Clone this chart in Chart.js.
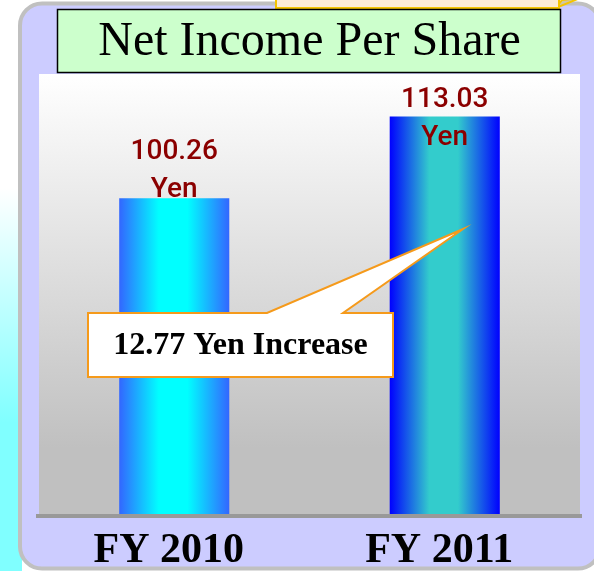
<!DOCTYPE html>
<html>
<head>
<meta charset="utf-8">
<script src="https://cdn.jsdelivr.net/npm/chart.js@4.4.0/dist/chart.umd.min.js"></script>
<style>
  html, body { margin: 0; padding: 0; background: #fff; overflow: hidden; }
  #wrap { width: 594px; height: 571px; }
</style>
</head>
<body>
<div id="wrap"><canvas id="chart"></canvas></div>
<script>
const chartTitle = 'Net Income Per Share';
const categories = ['FY 2010', 'FY 2011'];
const netIncomePerShare = [100.26, 113.03];
const valueUnit = 'Yen';
const increaseText = '12.77 Yen Increase';

// edge colour, middle colour of each bar
const barColors = [
  ['#3366ff', '#00ffff'],
  ['#0000ff', '#33cccc'],
];
// the value texts were placed by hand on the slide, so lift differs per bar
const labelLift = [39, 10];

const serif = '"Liberation Serif", "Times New Roman", serif';

const slideBackground = {
  id: 'slideBackground',
  beforeDraw(chart) {
    const { ctx, width, height, chartArea: a } = chart;
    ctx.save();
    ctx.fillStyle = '#ffffff';
    ctx.fillRect(0, 0, width, height);

    // cyan fade down the left edge of the slide
    const page = ctx.createLinearGradient(0, 0, 0, height);
    page.addColorStop(0, '#ffffff');
    page.addColorStop(0.33, '#ffffff');
    page.addColorStop(0.74, '#80ffff');
    page.addColorStop(1, '#80ffff');
    ctx.fillStyle = page;
    ctx.fillRect(0, 0, 22, height);

    // rounded panel
    ctx.beginPath();
    ctx.roundRect(20, 3.5, 580, 565, 22);
    ctx.fillStyle = '#ccccff';
    ctx.fill();
    ctx.lineWidth = 4;
    ctx.strokeStyle = '#c0c0c0';
    ctx.stroke();

    // another note box peeking in from the top
    ctx.beginPath();
    ctx.moveTo(556, 8);
    ctx.lineTo(562, 0);
    ctx.lineTo(580, -2);
    ctx.closePath();
    ctx.fillStyle = '#cfc7a6';
    ctx.fill();
    ctx.strokeStyle = '#f5c400';
    ctx.lineWidth = 2;
    ctx.stroke();
    ctx.fillStyle = '#fcebd4';
    ctx.fillRect(276, -5, 283, 13);
    ctx.strokeRect(276, -5, 283, 13);

    // plot background
    const bg = ctx.createLinearGradient(0, a.top, 0, a.bottom);
    bg.addColorStop(0, '#ffffff');
    bg.addColorStop(0.85, '#c0c0c0');
    bg.addColorStop(1, '#c0c0c0');
    ctx.fillStyle = bg;
    ctx.fillRect(a.left, a.top, a.right - a.left, a.bottom - a.top);

    // title box
    ctx.fillStyle = '#ccffcc';
    ctx.fillRect(57.5, 9.5, 503, 63);
    ctx.strokeStyle = '#000000';
    ctx.lineWidth = 1.5;
    ctx.strokeRect(57.5, 9.5, 503, 63);
    ctx.restore();
  }
};

const barGradient = {
  id: 'barGradient',
  beforeDatasetsDraw(chart) {
    const ctx = chart.ctx;
    chart.getDatasetMeta(0).data.forEach((bar, i) => {
      const [edge, mid] = barColors[i];
      const g = ctx.createLinearGradient(bar.x - bar.width / 2, 0, bar.x + bar.width / 2, 0);
      g.addColorStop(0, edge);
      g.addColorStop(0.36, mid);
      g.addColorStop(0.62, mid);
      g.addColorStop(1, edge);
      bar.options.backgroundColor = g;
    });
  }
};

const slideNotes = {
  id: 'slideNotes',
  afterDatasetsDraw(chart) {
    const { ctx, chartArea: a } = chart;
    ctx.save();

    // base line
    ctx.strokeStyle = '#999999';
    ctx.lineWidth = 4;
    ctx.beginPath();
    ctx.moveTo(a.left - 3, a.bottom + 2);
    ctx.lineTo(a.right + 2, a.bottom + 2);
    ctx.stroke();

    // value texts
    ctx.font = '500 28px Roboto, "Noto Sans", sans-serif';
    ctx.fillStyle = '#8b0000';
    ctx.textAlign = 'center';
    ctx.textBaseline = 'alphabetic';
    chart.getDatasetMeta(0).data.forEach((bar, i) => {
      const y0 = bar.y - labelLift[i];
      ctx.fillText(netIncomePerShare[i].toFixed(2), bar.x, y0);
      ctx.fillText(valueUnit, bar.x, y0 + 38);
    });

    // increase callout
    ctx.beginPath();
    ctx.moveTo(88, 313);
    ctx.lineTo(267, 313);
    ctx.lineTo(463, 229);
    ctx.lineTo(343, 313);
    ctx.lineTo(393, 313);
    ctx.lineTo(393, 377);
    ctx.lineTo(88, 377);
    ctx.closePath();
    ctx.fillStyle = '#ffffff';
    ctx.fill();
    ctx.strokeStyle = '#f59a1b';
    ctx.lineWidth = 2;
    ctx.stroke();
    ctx.fillStyle = '#000000';
    ctx.font = 'bold 32px ' + serif;
    ctx.fillText(increaseText, 240.5, 354);
    ctx.restore();
  }
};

new Chart(document.getElementById('chart'), {
  type: 'bar',
  data: {
    labels: categories,
    datasets: [{
      data: netIncomePerShare,
      backgroundColor: barColors.map(c => c[0]),
      borderWidth: 0,
      barPercentage: 0.407,
      categoryPercentage: 1,
    }],
  },
  options: {
    responsive: true,
    maintainAspectRatio: false,
    animation: false,
    layout: { padding: { left: 39, right: 14, top: 0, bottom: -16.6 } },
    plugins: {
      legend: { display: false },
      tooltip: { enabled: false },
      title: {
        display: true,
        text: chartTitle,
        color: '#000000',
        font: { family: serif, size: 48, weight: 'normal', lineHeight: 1.2 },
        padding: { top: 14, bottom: 2.4 },
      },
    },
    scales: {
      x: {
        grid: { display: false, drawTicks: false },
        border: { display: false },
        ticks: {
          color: '#000000',
          font: { family: serif, size: 42, weight: 'bold', lineHeight: 1.2 },
          padding: 11.6,
          labelOffset: -5.5,
        },
      },
      y: { display: false, min: 50.8, max: 119.7 },
    },
  },
  plugins: [slideBackground, barGradient, slideNotes],
});
</script>
</body>
</html>
